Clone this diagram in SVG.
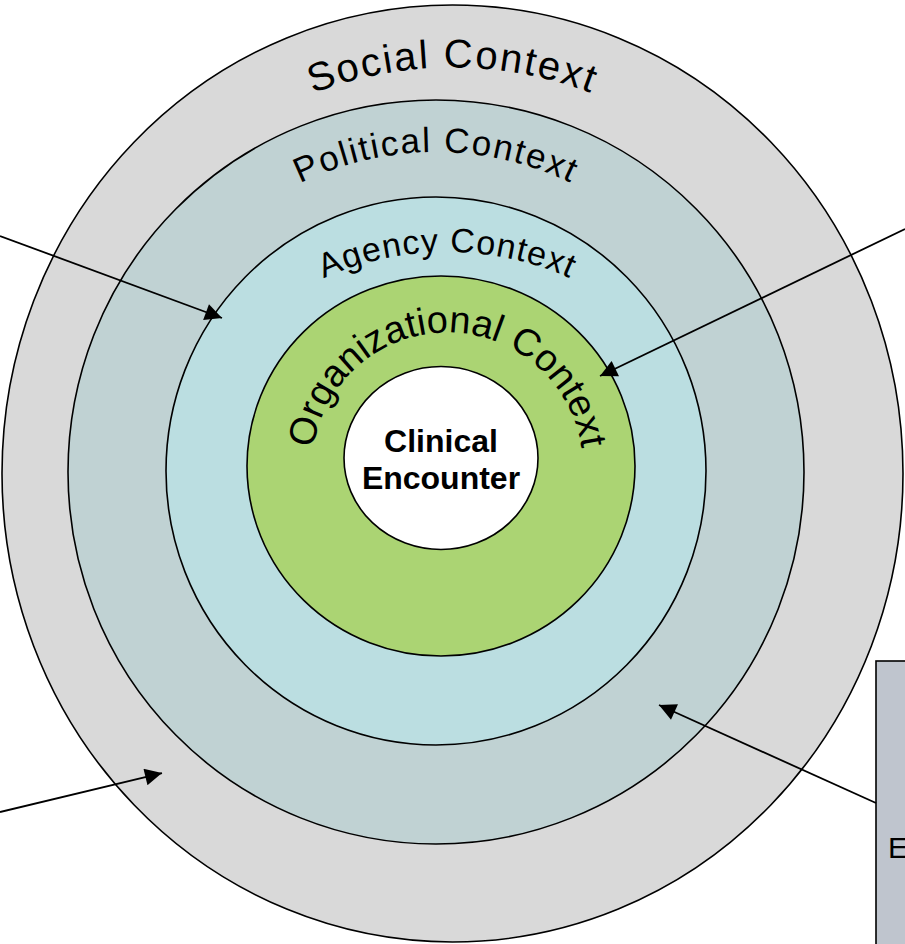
<svg xmlns="http://www.w3.org/2000/svg" width="905" height="944" viewBox="0 0 905 944">
  <style>
    .ring { stroke: #000; stroke-width: 1.6; }
    .arc { font-family: "Liberation Sans", Arial, sans-serif; fill: #000; }
    .conn { stroke: #000; stroke-width: 1.8; fill: none; }
    .ce { font-family: "Liberation Sans", Arial, sans-serif; font-weight: bold; font-size: 32px; }
  </style>
  <defs>
    <marker id="arrow" viewBox="0 0 10 10" refX="10" refY="5" markerWidth="18" markerHeight="17" markerUnits="userSpaceOnUse" orient="auto">
      <path d="M0,0 L10,5 L0,10 z" fill="#000"/>
    </marker>
    <path id="pSocial" d="M 56.5 473.5 A 396 406 0 0 1 848.5 473.5"/>
    <path id="pPolitical" d="M 121 472 A 315 320 0 0 1 751 472"/>
    <path id="pAgency" d="M 188 471 A 259 219 0 0 1 706 471"/>
    <path id="pOrg" d="M 312 468 A 135.5 135.5 0 0 1 583 468"/>
  </defs>
  <rect width="905" height="944" fill="#fff"/>

  <g id="social">
    <ellipse class="ring" cx="452.5" cy="473.5" rx="450.5" ry="468.5" fill="#D9D9D9"/>
  </g>
  <g id="political">
    <ellipse class="ring" cx="436" cy="472" rx="368" ry="372" fill="#C0D2D3"/>
  </g>
  <g id="agency">
    <ellipse class="ring" cx="436" cy="471" rx="270" ry="274" fill="#BBDEE1"/>
  </g>
  <g id="organizational">
    <ellipse class="ring" cx="441" cy="466" rx="194" ry="190" fill="#ABD473"/>
  </g>
  <g id="clinical">
    <ellipse class="ring" cx="441" cy="458" rx="97" ry="91.5" fill="#FFFFFF"/>
    <text class="ce" x="441" y="452" text-anchor="middle">Clinical</text>
    <text class="ce" x="441" y="489" text-anchor="middle">Encounter</text>
  </g>

  <g id="labels">
    <text class="arc" font-size="40" letter-spacing="2"><textPath href="#pSocial" startOffset="50%" text-anchor="middle">Social Context</textPath></text>
    <text class="arc" font-size="35" letter-spacing="1.8"><textPath href="#pPolitical" startOffset="50%" text-anchor="middle">Political Context</textPath></text>
    <text class="arc" font-size="34" letter-spacing="1"><textPath href="#pAgency" startOffset="50%" text-anchor="middle">Agency Context</textPath></text>
    <text class="arc" font-size="38" letter-spacing="0"><textPath href="#pOrg" startOffset="50%" text-anchor="middle">Organizational Context</textPath></text>
  </g>

  <g id="sidebox">
    <rect x="876" y="661" width="40" height="300" fill="#BFC5CE" stroke="#000" stroke-width="1.6"/>
    <text x="888" y="858" font-family="Liberation Sans, Arial, sans-serif" font-size="30">E</text>
  </g>

  <g id="connectors">
    <line class="conn" x1="0" y1="236" x2="222" y2="318" marker-end="url(#arrow)"/>
    <line class="conn" x1="905" y1="229" x2="600" y2="376" marker-end="url(#arrow)"/>
    <line class="conn" x1="0" y1="812" x2="162" y2="773" marker-end="url(#arrow)"/>
    <line class="conn" x1="876" y1="803" x2="659" y2="705" marker-end="url(#arrow)"/>
  </g>
</svg>
